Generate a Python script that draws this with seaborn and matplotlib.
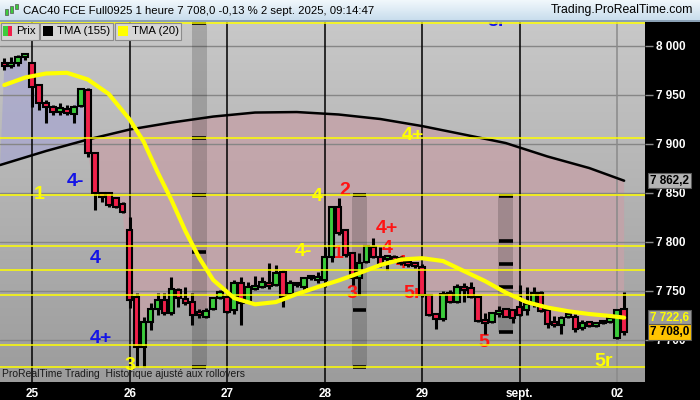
import numpy as np
import matplotlib
matplotlib.use("Agg")
import matplotlib.pyplot as plt
import matplotlib.transforms as mtransforms
from matplotlib.colors import LinearSegmentedColormap
from matplotlib.patches import Rectangle, Polygon
import seaborn as sns

# ==========================================
# Données
# ==========================================
opens = [7982.0, 7979.1, 7982.5, 7988.0, 7982.2, 7959.7, 7941.7, 7937.6, 7932.2, 7935.3,
         7930.2, 7938.3, 7954.7, 7890.1, 7849.9, 7849.4, 7844.3, 7838.4, 7811.9, 7743.9,
         7693.0, 7718.5, 7731.4, 7740.6, 7727.3, 7750.8, 7741.6, 7738.9, 7728.6, 7723.6,
         7731.1, 7742.3, 7743.9, 7730.4, 7757.6, 7738.9, 7751.5, 7753.5, 7758.2, 7755.9,
         7769.4, 7746.7, 7758.2, 7754.1, 7762.7, 7761.0, 7761.0, 7784.7, 7835.7, 7811.9,
         7788.2, 7762.7, 7779.6, 7794.9, 7784.1, 7782.1, 7784.7, 7783.1, 7779.6, 7778.0,
         7774.5, 7745.7, 7726.3, 7720.9, 7747.4, 7738.9, 7753.5, 7752.5, 7743.9, 7720.2,
         7717.9, 7726.3, 7731.1, 7730.4, 7733.8, 7730.4, 7737.2, 7748.0, 7730.4, 7718.5,
         7715.1, 7723.6, 7723.6, 7711.7, 7718.5, 7714.1, 7716.8, 7718.5, 7701.6, 7731.1]
highs = [7987.3, 7988.3, 7990.3, 7992.4, 7983.2, 7960.8, 7944.5, 7939.4, 7941.4, 7939.4,
         7939.4, 7956.5, 7956.7, 7891.4, 7851.0, 7851.0, 7846.0, 7840.0, 7825.5, 7747.7,
         7723.6, 7737.5, 7747.7, 7747.7, 7764.3, 7752.8, 7754.1, 7747.7, 7731.4, 7732.4,
         7743.9, 7750.8, 7749.0, 7761.0, 7764.3, 7759.2, 7765.0, 7763.7, 7778.0, 7776.3,
         7771.2, 7761.0, 7759.2, 7764.3, 7766.1, 7769.4, 7794.3, 7836.4, 7844.2, 7812.6,
         7788.8, 7788.5, 7796.6, 7803.5, 7794.9, 7786.4, 7786.4, 7785.4, 7781.0, 7779.5,
         7777.3, 7746.7, 7727.3, 7750.1, 7750.8, 7756.9, 7757.6, 7759.2, 7744.7, 7727.6,
         7728.6, 7734.5, 7732.1, 7731.1, 7755.9, 7754.1, 7754.1, 7750.1, 7733.1, 7724.3,
         7724.3, 7727.0, 7726.3, 7720.2, 7719.5, 7718.5, 7720.0, 7723.0, 7731.1, 7749.0]
lows = [7975.0, 7977.1, 7979.1, 7985.2, 7937.6, 7934.3, 7921.0, 7929.2, 7929.2, 7929.2,
        7921.0, 7937.5, 7886.7, 7832.3, 7840.8, 7835.7, 7834.0, 7829.0, 7732.1, 7672.6,
        7672.6, 7710.0, 7725.3, 7725.3, 7725.3, 7733.8, 7735.5, 7715.1, 7722.2, 7722.2,
        7730.4, 7741.6, 7727.3, 7726.3, 7715.1, 7737.9, 7750.8, 7752.5, 7751.5, 7754.9,
        7733.8, 7745.7, 7754.1, 7750.1, 7761.0, 7758.2, 7754.1, 7779.6, 7806.8, 7784.7,
        7755.9, 7745.7, 7778.0, 7783.1, 7774.5, 7771.2, 7779.3, 7776.3, 7774.5, 7773.5,
        7744.0, 7724.3, 7710.7, 7719.5, 7737.9, 7737.2, 7738.9, 7742.3, 7718.5, 7706.0,
        7716.8, 7723.6, 7723.0, 7717.4, 7724.3, 7725.3, 7733.8, 7728.6, 7711.7, 7713.4,
        7705.9, 7721.9, 7708.3, 7710.0, 7713.0, 7712.7, 7716.0, 7717.5, 7700.5, 7704.9]
closes = [7979.0, 7982.5, 7988.6, 7991.4, 7958.0, 7941.4, 7937.6, 7932.5, 7936.3, 7931.5,
          7937.6, 7955.7, 7890.4, 7849.3, 7845.9, 7837.4, 7835.7, 7830.6, 7740.6, 7693.0,
          7718.5, 7731.4, 7740.6, 7727.3, 7751.8, 7742.6, 7737.9, 7725.3, 7725.3, 7729.7,
          7742.9, 7749.0, 7728.6, 7758.2, 7737.2, 7753.8, 7754.9, 7759.2, 7754.9, 7768.4,
          7743.9, 7757.6, 7755.9, 7762.7, 7765.0, 7763.7, 7784.7, 7835.7, 7808.6, 7786.4,
          7762.7, 7778.0, 7795.6, 7784.7, 7776.3, 7785.4, 7781.4, 7778.0, 7776.3, 7775.2,
          7745.7, 7725.3, 7720.9, 7746.7, 7738.9, 7753.5, 7750.8, 7743.3, 7719.5, 7716.8,
          7727.0, 7729.7, 7723.6, 7721.9, 7725.3, 7736.5, 7748.0, 7729.7, 7716.1, 7715.1,
          7722.5, 7726.3, 7710.7, 7717.4, 7714.1, 7717.4, 7719.2, 7722.2, 7730.4, 7708.0]

# TMA (20) et TMA (155), relevées à quelques bougies
tma20_idx = [0, 3, 6, 9, 12, 15, 18, 20, 22, 24, 26, 28, 30, 33, 36, 39, 42, 45, 48, 51,
             54, 57, 60, 63, 66, 69, 72, 75, 78, 81, 84, 87, 89]
tma20_val = [7959.7, 7967.4, 7971.5, 7972.2, 7965.4, 7950.6, 7924.6, 7902.2, 7871.1, 7842.5,
             7811.0, 7783.4, 7761.0, 7742.6, 7736.2, 7738.5, 7746.7, 7753.8, 7760.5, 7768.1,
             7776.3, 7781.9, 7783.2, 7780.3, 7770.1, 7760.0, 7748.2, 7738.5, 7732.9, 7729.1,
             7726.3, 7724.3, 7722.6]
tma155_idx = [-0.6, 6, 12, 18, 24, 30, 36, 42, 48, 54, 60, 66, 72, 78, 84, 89]
tma155_val = [7878.2, 7892.5, 7904.2, 7914.4, 7921.5, 7927.6, 7931.7, 7932.2, 7929.7, 7925.1,
              7917.9, 7909.3, 7900.6, 7886.9, 7875.1, 7862.2]

# niveaux horizontaux jaunes
level_lines = [8023.0, 7905.7, 7847.6, 7795.6, 7771.2, 7745.7, 7694.7, 7672.3]

# zones grises verticales (centre, bas, haut, tirets)
zone_centers = [28, 51, 72]
zone_low = [7672.3, 7672.3, 7708.0]
zone_high = [8023.0, 7847.6, 7846.6]
zone_marks = [[8022.9, 7905.7, 7847.6, 7789.5, 7672.3],
              [7847.6, 7730.4, 7672.3],
              [7846.6, 7800.7, 7777.3, 7753.8, 7708.0]]

# jours
day_starts = [4, 18, 32, 46, 60, 74, 88]
day_labels = ["25", "26", "27", "28", "29", "sept.", "02"]

# annotations (texte, index, prix, couleur)
note_text = ["5r", "4+", "1", "4-", "4", "4+", "3", "4", "2", "4-", "1", "4+", "4", "4-",
             "3", "5r", "5", "5r"]
note_x = [70.75, 58.7, 5.0, 10.15, 13.0, 13.9, 18.05, 44.9, 48.9, 43.0, 47.9, 54.95, 54.95,
          57.4, 49.9, 58.7, 68.9, 86.0]
note_y = [8024.0, 7907.8, 7848.6, 7861.9, 7782.4, 7701.8, 7674.3, 7846.6, 7852.7, 7790.5,
          7788.5, 7813.0, 7793.6, 7778.3, 7747.7, 7747.7, 7696.8, 7677.4]
note_color = ["blue", "yellow", "yellow", "blue", "blue", "blue", "yellow", "yellow", "red",
              "yellow", "red", "red", "red", "red", "red", "red", "red", "yellow"]

price_ticks = [7700, 7750, 7800, 7850, 7900, 7950, 8000]

COLORS = {"blue": "#1414e6", "yellow": "#ffff00", "red": "#ff1414"}
GREEN = "#3ccc3c"
RED = "#f0204a"

W, H = 700, 400
XMIN, XMAX = -0.617, 92.0
YMIN, YMAX = 7657.0, 8024.0


def fig_rect(fig, x, y, w, h, **kw):
    # rectangle en pixels (origine en haut à gauche)
    r = Rectangle((x / W, 1 - (y + h) / H), w / W, h / H, transform=fig.transFigure, **kw)
    fig.add_artist(r)
    return r


def fig_text(fig, x, y, s, **kw):
    fig.text(x / W, 1 - y / H, s, **kw)


def draw_candles(ax):
    idx = np.arange(len(closes))
    o = np.array(opens)
    c = np.array(closes)
    ax.vlines(idx, lows, highs, color="black", lw=2.2, zorder=4)
    colors = [GREEN if cc >= oo else RED for oo, cc in zip(o, c)]
    bottom = np.minimum(o, c)
    height = np.maximum(np.abs(c - o), 1.5)
    ax.bar(idx, height, bottom=bottom, width=0.8, color=colors, edgecolor="black",
           linewidth=1.5, zorder=5)


def draw_fill(ax):
    idx = np.arange(len(closes))
    xs = np.r_[idx, tma155_idx[::-1]]
    ys = np.r_[closes, tma155_val[::-1]]
    verts = np.column_stack([xs, ys])
    cut = 11.8
    for color, x0, x1 in [("#aaa9cc", XMIN - 1, cut), ("#c4a3a9", cut, XMAX + 1)]:
        poly = Polygon(verts, closed=True, fc=color, ec="none", alpha=0.85, zorder=1)
        ax.add_patch(poly)
        clip = Rectangle((x0, 7000), x1 - x0, 2000, transform=ax.transData)
        poly.set_clip_path(clip)


def main():
    sns.set_theme(style="white")
    plt.rcParams["font.family"] = ["Liberation Sans", "DejaVu Sans"]

    fig = plt.figure(figsize=(W / 100, H / 100), dpi=100, facecolor="black")
    ax = fig.add_axes([0, 18 / H, 645 / W, 360 / H])

    # fond dégradé
    cmap = LinearSegmentedColormap.from_list("bg", ["#9c9c9c", "#c8c8c8"])
    grad = np.linspace(0, 1, 256).reshape(-1, 1)
    ax.imshow(grad, extent=[XMIN, XMAX, YMIN, YMAX], origin="lower", aspect="auto",
              cmap=cmap, zorder=0)

    draw_fill(ax)

    # grille
    for p in price_ticks:
        ax.axhline(p, color="#868686", lw=1.0, zorder=1.2)
    for d in day_starts[:-1]:
        ax.axvline(d, color="black", lw=1.1, zorder=1.5)
    ax.axvline(day_starts[-1], color="#8a8a8a", lw=1.1, zorder=1.5)

    # zones grises
    for cx, lo, hi, marks in zip(zone_centers, zone_low, zone_high, zone_marks):
        ax.add_patch(Rectangle((cx - 1.07, lo), 2.14, hi - lo, fc="black", alpha=0.17,
                               ec="none", zorder=1.6))
        ax.hlines(marks, cx - 1.0, cx + 1.0, color="black", lw=2.6, zorder=6)

    # annotations (sous les bougies)
    for t, x, y, c in zip(note_text, note_x, note_y, note_color):
        ax.text(x, y, t, color=COLORS[c], fontsize=14, fontweight="bold", ha="center",
                va="center", zorder=3, clip_on=True)

    # TMA
    sns.lineplot(x=tma155_idx, y=tma155_val, ax=ax, color="black", lw=1.8, zorder=3.5)
    draw_candles(ax)
    sns.lineplot(x=tma20_idx, y=tma20_val, ax=ax, color="#ffff00", lw=3.0, zorder=7)

    for lv in level_lines:
        ax.axhline(lv, color="#ffff00", lw=1.1, zorder=6.5)

    ax.set_xlim(XMIN, XMAX)
    ax.set_ylim(YMIN, YMAX)
    for s in ax.spines.values():
        s.set_visible(False)

    ax.yaxis.tick_right()
    ax.set_yticks(price_ticks)
    ax.set_yticklabels([f"{p:,}".replace(",", " ") for p in price_ticks])
    ax.tick_params(axis="y", right=True, left=False, length=6, width=1, color="#8c8c8c",
                   labelcolor="white", pad=2, labelsize=8.5)
    for lab in ax.get_yticklabels():
        lab.set_fontweight("bold")
    ax.set_xticks(day_starts)
    ax.set_xticklabels(day_labels)
    ax.tick_params(axis="x", bottom=True, length=0, pad=4, labelcolor="white", labelsize=8.5)
    for lab in ax.get_xticklabels():
        lab.set_fontweight("bold")
    ax.set_xlabel("")
    ax.set_ylabel("")

    # étiquettes de prix
    trans = mtransforms.blended_transform_factory(ax.transAxes, ax.transData)
    tags = [(7862.2, "7 862,2", "#b4b4b4", "black"),
            (7722.6, "7 722,6", "#9a9a9a", "#ffff00"),
            (7708.0, "7 708,0", "#ffc400", "black")]
    for val, s, fc, tc in tags:
        ax.text(1.008, val, s, transform=trans, ha="left", va="center", color=tc,
                fontsize=8.5, fontweight="bold", clip_on=False, zorder=20,
                bbox=dict(boxstyle="square,pad=0.15", fc=fc, ec="#5a5a5a", lw=0.8))

    ax.text(0.003, 7660.5, "ProRealTime Trading  Historique ajusté aux rollovers",
            transform=trans, fontsize=7.5, color="#1a1a1a", ha="left", va="bottom", zorder=8)

    # bandeau du titre
    hax = fig.add_axes([0, 1 - 21 / H, 1, 21 / H])
    hcmap = LinearSegmentedColormap.from_list("hd", ["#c6dcec", "#f2f8fc"])
    hax.imshow(grad, extent=[0, 1, 0, 1], origin="lower", aspect="auto", cmap=hcmap)
    hax.axis("off")
    hax.text(23 / W, 0.5, "CAC40 FCE Full0925 1 heure 7 708,0 -0,13 % 2 sept. 2025, 09:14:47",
             transform=hax.transAxes, fontsize=8.2, color="black", va="center", ha="left")
    hax.text(693 / W, 0.5, "Trading.ProRealTime.com", transform=hax.transAxes,
             fontsize=8.8, color="black", va="center", ha="right")
    fig_rect(fig, 0, 20.5, W, 1.5, fc="#8aa0b4", ec="none")
    # petite icône chandeliers
    fig_rect(fig, 5, 9, 3, 6, fc=GREEN, ec="#555555", lw=0.5)
    fig_rect(fig, 10, 6, 3, 7, fc=GREEN, ec="#555555", lw=0.5)
    fig_rect(fig, 15, 4, 3, 5, fc=GREEN, ec="#555555", lw=0.5)

    # légende
    boxes = [(0.5, 38), (40, 73), (115, 66)]
    for bx, bw in boxes:
        fig_rect(fig, bx, 22.5, bw, 17, fc="#d6d6d6", ec="#8c8c8c", lw=0.8, zorder=30)
    fig_rect(fig, 3, 26, 4.5, 10, fc=GREEN, ec="none", zorder=31)
    fig_rect(fig, 7.5, 26, 4.5, 10, fc=RED, ec="none", zorder=31)
    fig_rect(fig, 43, 26, 10, 10, fc="black", ec="none", zorder=31)
    fig_rect(fig, 118, 26, 10, 10, fc="#ffff00", ec="none", zorder=31)
    fig_text(fig, 16, 31.5, "Prix", fontsize=8.2, va="center", color="black", zorder=32)
    fig_text(fig, 57, 31.5, "TMA (155)", fontsize=8.2, va="center", color="black", zorder=32)
    fig_text(fig, 132, 31.5, "TMA (20)", fontsize=8.2, va="center", color="black", zorder=32)

    fig.savefig("out.png", dpi=100, facecolor="black")
    plt.close(fig)


if __name__ == "__main__":
    main()
